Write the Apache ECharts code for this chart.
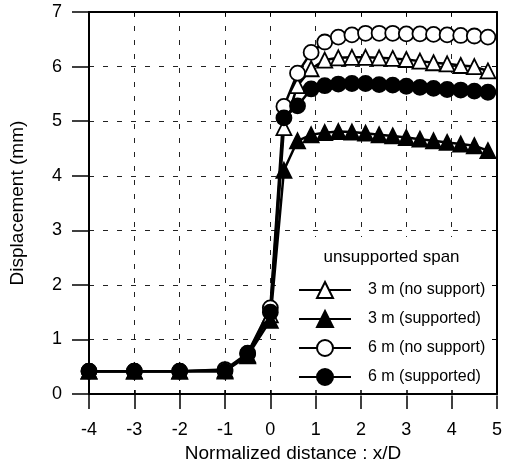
<!DOCTYPE html>
<html>
<head>
<meta charset="utf-8">
<script src="https://cdn.jsdelivr.net/npm/echarts@6/dist/echarts.min.js"></script>
<style>
  html, body { margin: 0; padding: 0; background: #ffffff; }
  #chart { width: 505px; height: 468px; }
</style>
</head>
<body>
<div id="chart"></div>
<script>
// Normalized distance x/D of the measuring points
const xValues = [-4, -3, -2, -1, -0.5, 0, 0.3, 0.6, 0.9, 1.2, 1.5, 1.8, 2.1, 2.4, 2.7, 3.0, 3.3, 3.6, 3.9, 4.2, 4.5, 4.8];

// Displacement (mm) for each unsupported span case
const span3NoSupport = [0.42, 0.42, 0.42, 0.44, 0.72, 1.45, 4.88, 5.65, 5.96, 6.12, 6.16, 6.17, 6.17, 6.16, 6.15, 6.13, 6.10, 6.07, 6.05, 6.02, 6.00, 5.92];
const span3Supported = [0.42, 0.42, 0.42, 0.42, 0.70, 1.35, 4.10, 4.64, 4.75, 4.79, 4.81, 4.80, 4.78, 4.75, 4.73, 4.70, 4.67, 4.64, 4.61, 4.58, 4.55, 4.46];
const span6NoSupport = [0.42, 0.42, 0.42, 0.45, 0.75, 1.58, 5.27, 5.88, 6.26, 6.45, 6.54, 6.58, 6.61, 6.61, 6.61, 6.60, 6.60, 6.59, 6.58, 6.57, 6.56, 6.54];
const span6Supported = [0.42, 0.42, 0.42, 0.42, 0.74, 1.50, 5.06, 5.28, 5.59, 5.65, 5.68, 5.69, 5.69, 5.67, 5.66, 5.64, 5.62, 5.60, 5.58, 5.57, 5.55, 5.53];

const seriesNames = ['3 m (no support)', '3 m (supported)', '6 m (no support)', '6 m (supported)'];
const legendTitle = 'unsupported span';
const xAxisTitle = 'Normalized distance : x/D';
const yAxisTitle = 'Displacement (mm)';

const FONT = '"Liberation Sans", Arial, Helvetica, sans-serif';

function pairs(ys) {
  return xValues.map((x, i) => [x, ys[i]]);
}

function makeSeries(name, ys, symbol, filled) {
  return {
    name: name,
    type: 'line',
    data: pairs(ys),
    symbol: symbol,
    symbolSize: 15,
    showAllSymbol: true,
    lineStyle: { color: '#000', width: 2.5 },
    itemStyle: {
      color: filled ? '#000' : '#fff',
      borderColor: '#000',
      borderWidth: 1.8
    },
    emphasis: { disabled: true },
    animation: false,
    z: 2
  };
}

const gridDash = { color: '#222', width: 1, type: [5, 9] };
const frameLine = { show: true, onZero: false, lineStyle: { color: '#000', width: 2 } };

const chart = echarts.init(document.getElementById('chart'), null, { renderer: 'canvas' });

chart.setOption({
  backgroundColor: '#fff',
  animation: false,
  textStyle: { fontFamily: FONT, color: '#000' },
  grid: { left: 85, right: 4, top: 12, bottom: 71, containLabel: false },
  xAxis: [
    {
      // main axis: labels, outward ticks and the dashed grid (kept under the legend panel)
      type: 'value', min: -4, max: 5, interval: 1, position: 'bottom', z: 0,
      name: xAxisTitle, nameLocation: 'middle', nameGap: 45,
      nameTextStyle: { fontSize: 19, color: '#000', fontFamily: FONT },
      axisLine: frameLine,
      axisTick: { show: true, inside: false, length: 15, lineStyle: { color: '#000', width: 1.5 } },
      axisLabel: { fontSize: 18, color: '#000', margin: 27, fontFamily: FONT },
      splitLine: { show: true, lineStyle: gridDash }
    },
    {
      // frame on top with short inward ticks
      type: 'value', min: -4, max: 5, interval: 1, position: 'top', z: 5,
      axisLine: frameLine,
      axisTick: { show: true, inside: true, length: 4, lineStyle: { color: '#000', width: 1 } },
      axisLabel: { show: false },
      splitLine: { show: false }
    },
    {
      // ticks crossing the bottom axis slightly into the plot
      type: 'value', min: -4, max: 5, interval: 1, position: 'bottom', z: 5,
      axisLine: frameLine,
      axisTick: { show: true, inside: true, length: 4, lineStyle: { color: '#000', width: 1.5 } },
      axisLabel: { show: false },
      splitLine: { show: false }
    }
  ],
  yAxis: [
    {
      type: 'value', min: 0, max: 7, interval: 1, position: 'left', z: 0,
      name: yAxisTitle, nameLocation: 'middle', nameGap: 62, nameRotate: 90,
      nameTextStyle: { fontSize: 19, color: '#000', fontFamily: FONT },
      axisLine: frameLine,
      axisTick: { show: true, inside: false, length: 17, lineStyle: { color: '#000', width: 1.5 } },
      axisLabel: { fontSize: 18, color: '#000', margin: 27, fontFamily: FONT },
      splitLine: { show: true, lineStyle: gridDash }
    },
    {
      // frame on the right with short inward ticks
      type: 'value', min: 0, max: 7, interval: 1, position: 'right', z: 5,
      axisLine: frameLine,
      axisTick: { show: true, inside: true, length: 5, lineStyle: { color: '#000', width: 1 } },
      axisLabel: { show: false },
      splitLine: { show: false }
    }
  ],
  legend: {
    show: true,
    orient: 'vertical',
    left: 298,
    top: 281,
    padding: 0,
    itemWidth: 52,
    itemHeight: 20,
    itemGap: 11,
    data: seriesNames,
    textStyle: { fontSize: 16, color: '#000', fontFamily: FONT, padding: [0, 0, 0, 12] },
    selectedMode: false,
    z: 6
  },
  graphic: {
    elements: [
      {
        // white panel behind the legend
        type: 'rect', z: 1, silent: true,
        shape: { x: 285, y: 237, width: 214, height: 158.5 },
        style: { fill: '#fff' }
      },
      {
        type: 'text', z: 7, silent: true,
        x: 391.5, y: 257.5,
        style: {
          text: legendTitle, fill: '#000', font: '17px ' + FONT,
          textAlign: 'center', textVerticalAlign: 'middle'
        }
      }
    ]
  },
  series: [
    makeSeries(seriesNames[0], span3NoSupport, 'triangle', false),
    makeSeries(seriesNames[1], span3Supported, 'triangle', true),
    makeSeries(seriesNames[2], span6NoSupport, 'circle', false),
    makeSeries(seriesNames[3], span6Supported, 'circle', true)
  ]
});
</script>
</body>
</html>
